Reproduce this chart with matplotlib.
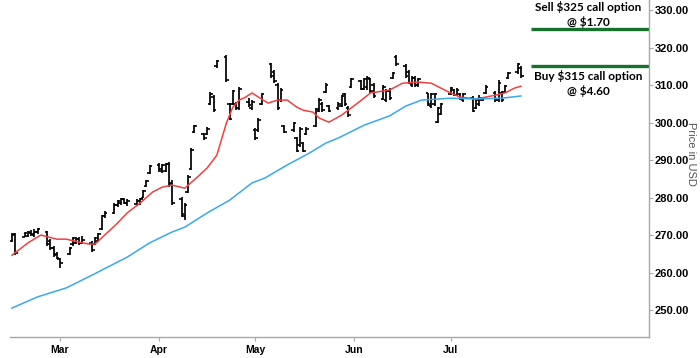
import pandas as pd
import matplotlib
matplotlib.use("Agg")
import matplotlib.pyplot as plt
import matplotlib.dates as mdates
from matplotlib.ticker import FormatStrFormatter

# daily OHLC, one value per business day from 2024-02-15 to 2024-07-23
dates = pd.bdate_range("2024-02-15", "2024-07-23")

opens = [
    # Feb
    268.5, 270.2, 269.6, 269.8, 270.5, 270.0, 270.8, 270.8, 268.5, 266.5, 265.0,
    # Mar
    263.5, 265.0, 267.5, 268.0, 269.0, 268.0, 268.0, 267.5, 268.5, 271.6, 275.0,
    276.0, 278.0, 278.5, 279.5, 278.5, 278.2, 279.0, 280.0, 283.0, 286.5,
    # Apr
    288.8, 287.0, 287.0, 289.0, 284.0, 279.5, 275.0, 281.5, 287.5, 297.5, 297.0,
    297.0, 305.0, 306.8, 315.0, 317.5, 305.0, 305.0, 305.0, 304.0, 305.5, 304.0,
    # May
    298.0, 298.0, 305.0, 315.5, 313.5, 310.0, 306.0, 299.0, 298.0, 295.8, 294.0,
    294.5, 297.0, 299.0, 303.0, 305.0, 308.2, 304.3, 303.8, 304.5, 307.5, 304.0,
    309.5,
    # Jun
    311.0, 309.0, 309.5, 311.5, 310.0, 306.3, 306.0, 308.5, 312.0, 317.5, 315.0,
    313.5, 310.0, 312.0, 310.0, 307.8, 304.5, 305.0, 300.2, 302.3,
    # Jul
    307.6, 308.8, 307.3, 307.7, 306.0, 306.5, 304.0, 305.0, 306.0, 308.0, 308.0,
    306.0, 308.0, 308.2, 312.0, 313.5, 314.6,
]
highs = [
    270.5, 270.5, 270.8, 271.0, 271.3, 271.5, 272.0, 271.0, 269.0, 267.0, 265.5,
    264.0, 266.8, 269.5, 269.6, 269.5, 269.8, 268.5, 269.5, 270.5, 275.3, 276.5,
    278.5, 279.3, 279.8, 280.0, 279.5, 279.5, 280.0, 282.0, 284.7, 288.7,
    289.3, 289.0, 289.3, 289.5, 284.7, 280.1, 278.5, 286.0, 293.2, 299.3, 297.3,
    298.7, 308.1, 307.3, 316.7, 318.0, 305.2, 308.7, 305.5, 309.5, 306.5, 306.0,
    298.5, 301.2, 307.9, 315.9, 314.0, 310.5, 309.2, 299.3, 300.1, 296.1, 298.7,
    294.8, 298.7, 303.9, 306.5, 305.5, 310.5, 304.7, 305.5, 307.3, 307.8, 304.5,
    311.9,
    311.3, 312.0, 312.5, 311.9, 310.5, 310.0, 309.0, 309.2, 313.5, 318.0, 315.5,
    314.0, 312.5, 312.5, 311.9, 308.0, 308.0, 307.9, 304.1, 305.2,
    309.5, 309.0, 309.2, 308.0, 308.0, 307.0, 306.5, 307.3, 306.8, 310.0, 308.5,
    311.3, 308.5, 310.0, 313.5, 316.0, 315.0,
]
lows = [
    268.1, 264.7, 269.4, 269.6, 269.8, 269.5, 270.3, 267.2, 266.0, 264.2, 263.5,
    261.3, 264.7, 267.0, 267.5, 267.3, 267.5, 265.5, 267.3, 268.2, 271.3, 274.5,
    275.5, 277.5, 278.0, 278.2, 277.8, 277.8, 278.0, 279.8, 282.8, 286.3,
    286.8, 286.5, 286.8, 282.8, 278.0, 274.8, 274.0, 281.2, 287.3, 297.2, 295.3,
    296.7, 304.7, 302.8, 314.5, 310.8, 300.7, 304.7, 303.3, 303.3, 304.2, 303.3,
    295.3, 297.5, 304.7, 311.9, 310.5, 303.3, 305.5, 297.2, 297.5, 292.1, 293.6,
    292.1, 296.7, 298.8, 302.8, 302.8, 307.9, 302.8, 303.3, 304.1, 304.5, 301.5,
    309.2,
    308.7, 308.7, 308.7, 307.9, 306.5, 306.0, 305.5, 306.0, 311.6, 315.0, 311.9,
    310.2, 309.5, 309.5, 309.5, 304.5, 304.0, 304.5, 299.9, 302.0,
    307.3, 307.0, 307.0, 305.9, 305.5, 302.8, 303.5, 304.5, 305.8, 307.5, 305.5,
    305.5, 305.5, 307.9, 311.6, 313.0, 311.9,
]
closes = [
    270.0, 265.2, 270.5, 270.7, 270.2, 270.8, 271.6, 267.6, 266.6, 264.8, 264.0,
    262.5, 266.5, 269.2, 269.0, 268.0, 268.8, 266.0, 269.2, 270.2, 275.0, 276.0,
    278.0, 279.0, 279.5, 278.5, 279.0, 279.2, 279.5, 281.7, 284.5, 288.5,
    287.5, 288.6, 289.0, 283.5, 278.5, 275.5, 278.0, 285.5, 292.8, 299.0, 295.8,
    298.3, 307.5, 303.3, 316.3, 311.3, 301.0, 308.3, 303.8, 309.0, 304.8, 305.6,
    295.8, 300.8, 307.5, 312.5, 311.0, 304.0, 308.8, 297.5, 299.8, 292.5, 298.3,
    292.5, 298.3, 303.5, 306.0, 303.3, 310.0, 303.2, 305.0, 307.0, 305.0, 302.0,
    311.5,
    309.0, 311.6, 312.0, 308.3, 307.0, 309.5, 308.5, 306.5, 313.2, 315.5, 312.3,
    310.5, 312.0, 310.0, 311.5, 305.0, 307.5, 307.6, 303.8, 304.9,
    309.2, 307.4, 308.8, 306.2, 307.5, 303.2, 306.0, 306.5, 306.5, 309.6, 306.0,
    310.5, 306.0, 309.7, 313.2, 315.6, 312.3,
]

# moving averages
ma_fast_dates = ["2024-02-15", "2024-02-20", "2024-02-24", "2024-02-29", "2024-03-03",
                 "2024-03-07", "2024-03-10", "2024-03-12", "2024-03-15", "2024-03-19",
                 "2024-03-22", "2024-03-26", "2024-03-30", "2024-04-02", "2024-04-05",
                 "2024-04-09", "2024-04-13", "2024-04-16", "2024-04-19", "2024-04-22",
                 "2024-04-24", "2024-04-26", "2024-04-28", "2024-04-30", "2024-05-02",
                 "2024-05-05", "2024-05-08", "2024-05-11", "2024-05-14", "2024-05-16",
                 "2024-05-19", "2024-05-21", "2024-05-24", "2024-05-28", "2024-06-02",
                 "2024-06-06", "2024-06-12", "2024-06-16", "2024-06-21", "2024-06-25",
                 "2024-06-28", "2024-07-01", "2024-07-04", "2024-07-09", "2024-07-12",
                 "2024-07-15", "2024-07-18", "2024-07-21", "2024-07-23"]
ma_fast = [264.6, 267.9, 270.0, 268.9, 268.9, 268.1, 267.6, 267.6, 270.0, 273.2,
           275.9, 278.5, 281.5, 282.8, 283.3, 282.5, 285.5, 287.9, 291.3, 299.9,
           304.1, 306.0, 306.8, 307.9, 306.8, 305.2, 306.0, 306.0, 304.1, 303.3,
           302.8, 301.2, 300.1, 302.0, 305.2, 307.9, 308.7, 310.5, 310.8, 310.5,
           309.2, 307.9, 306.8, 306.3, 306.8, 307.3, 307.9, 309.2, 309.7]

ma_slow_dates = ["2024-02-15", "2024-02-23", "2024-03-03", "2024-03-11", "2024-03-22",
                 "2024-03-29", "2024-04-05", "2024-04-09", "2024-04-16", "2024-04-23",
                 "2024-04-30", "2024-05-04", "2024-05-11", "2024-05-18", "2024-05-23",
                 "2024-05-27", "2024-06-04", "2024-06-12", "2024-06-17", "2024-06-22",
                 "2024-07-01", "2024-07-09", "2024-07-17", "2024-07-23"]
ma_slow = [250.5, 253.5, 255.9, 259.3, 264.1, 267.9, 270.8, 272.1, 275.9, 279.3,
           283.9, 285.2, 288.7, 291.9, 294.5, 295.9, 299.3, 301.8, 304.4, 306.0,
           306.5, 306.3, 306.5, 307.1]

strikes = [325, 315]
strike_labels = ["Sell $325 call option\n@ $1.70", "Buy $315 call option\n@ $4.60"]
month_ticks = ["2024-03-01", "2024-04-01", "2024-05-01", "2024-06-01", "2024-07-01"]

fig = plt.figure(figsize=(7, 3.58), dpi=100)
ax = fig.add_axes([10 / 700, 21 / 358, 639 / 700, 337 / 358])

# OHLC bars
x = mdates.date2num(dates)
ax.vlines(x, lows, highs, color="black", lw=1.25)
ax.hlines(opens, x - 0.8, x, color="black", lw=1.2)
ax.hlines(closes, x, x + 0.8, color="black", lw=1.2)

ax.plot(pd.to_datetime(ma_fast_dates), ma_fast, color="#f2403f", lw=1.1)
ax.plot(pd.to_datetime(ma_slow_dates), ma_slow, color="#3aa8f0", lw=1.1)

mar1 = mdates.date2num(pd.Timestamp("2024-03-01"))
left, right = mar1 - 15.6, mar1 + 184
ax.set_xlim(left, right)
ax.set_ylim(242.8, 332.7)

# option strikes
line_start = mdates.date2num(pd.Timestamp("2024-07-26"))
ax.hlines(strikes, line_start, right, color="#17702b", lw=2.4)
text_x = mdates.date2num(pd.Timestamp("2024-08-13"))
ax.text(text_x, 328.8, strike_labels[0], ha="center", va="center",
        fontsize=8.5, fontweight="bold", family="Lato", linespacing=1.3)
ax.text(text_x, 310.4, strike_labels[1], ha="center", va="center",
        fontsize=8.5, fontweight="bold", family="Lato", linespacing=1.3)

# axes styling
for side in ["left", "top"]:
    ax.spines[side].set_visible(False)
for side in ["right", "bottom"]:
    ax.spines[side].set_color("#a8a8a8")
    ax.spines[side].set_linewidth(1.0)

ax.yaxis.tick_right()
ax.set_yticks(range(250, 331, 10))
ax.yaxis.set_major_formatter(FormatStrFormatter("%.2f"))
ax.tick_params(axis="y", length=3, color="#a8a8a8", pad=1, labelsize=8)
ax.set_xticks(pd.to_datetime(month_ticks))
ax.xaxis.set_major_formatter(mdates.DateFormatter("%b"))
ax.tick_params(axis="x", length=3, color="#a8a8a8", pad=3, labelsize=7.5)
for lab in ax.get_xticklabels() + ax.get_yticklabels():
    lab.set_fontweight("bold")
    lab.set_family("Liberation Sans")

fig.text(0.987, 0.57, "Price in USD", rotation=270, ha="center", va="center",
         fontsize=8, color="#555555", family="Liberation Sans")

fig.savefig("out.png", dpi=100)
